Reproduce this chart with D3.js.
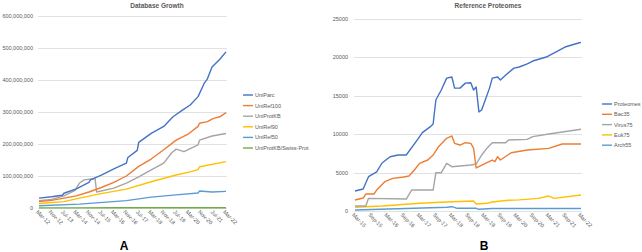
<!DOCTYPE html>
<html>
<head>
<meta charset="utf-8">
<script src="https://cdn.jsdelivr.net/npm/d3@7"></script>
<style>
  body { margin: 0; background: #fff; }
  text { font-family: "Liberation Sans", Arial, sans-serif; }
</style>
</head>
<body>
<div id="chart"></div>
<script>
// ---- left panel: database growth (millions of entries) ----
var growthNames = ["UniParc", "UniRef100", "UniProtKB", "UniRef90", "UniRef50", "UniProtKB/Swiss-Prot"];
var growthTicks = ["Mar-12", "Nov-12", "Jul-13", "Mar-14", "Nov-14", "Jul-15", "Mar-16", "Nov-16",
                   "Jul-17", "Mar-18", "Nov-18", "Jul-19", "Mar-20", "Nov-20", "Jul-21", "Mar-22"];
var growthYTicks = [0, 100, 200, 300, 400, 500, 600];

var uniParc = [["2012-03",31],["2012-11",35],["2013-06",40],["2013-07",46],["2014-03",60],["2014-11",80],
  ["2014-12",88],["2015-07",103],["2016-03",122],["2016-11",140],["2016-12",158],["2017-06",180],
  ["2017-07",205],["2018-03",233],["2018-11",255],["2019-05",285],["2019-11",306],["2020-04",322],
  ["2020-09",348],["2021-01",390],["2021-03",403],["2021-06",441],["2021-11",465],["2022-03",488]];
var uniRef100 = [["2012-03",20],["2012-11",24],["2013-07",31],["2014-03",38],["2014-11",50],["2015-07",64],
  ["2016-03",80],["2016-11",100],["2017-07",130],["2018-03",153],["2018-11",182],["2019-07",212],
  ["2020-03",232],["2020-09",255],["2020-10",265],["2021-03",270],["2021-07",280],["2021-11",285],["2022-03",298]];
var uniProtKB = [["2012-03",23],["2012-11",27],["2013-07",38],["2014-02",55],["2014-05",78],["2014-08",88],
  ["2015-03",92],["2015-04",50],["2016-03",62],["2016-11",78],["2017-07",97],["2018-03",119],["2018-11",140],
  ["2019-04",172],["2019-07",184],["2019-12",176],["2020-09",197],["2020-10",212],["2021-06",225],["2022-03",233]];
var uniRef90 = [["2012-03",14],["2013-07",20],["2014-05",31],["2015-06",44],["2016-11",59],["2018-03",82],
  ["2019-07",103],["2020-04",113],["2020-09",120],["2020-10",129],["2022-03",145]];
var uniRef50 = [["2012-03",7],["2014-05",12],["2016-11",23],["2018-03",34],["2019-07",41],["2020-09",47],
  ["2020-10",53],["2021-06",50],["2022-03",52]];
var swissProt = [["2012-03",0.535],["2014-03",0.545],["2016-03",0.55],["2018-03",0.557],["2020-03",0.562],["2022-03",0.567]];

// ---- right panel: reference proteomes ----
var protNames = ["Proteomes", "Bac35", "Virus75", "Euk75", "Arch55"];
var protTicks = ["Mar-15", "Sep-15", "Mar-16", "Sep-16", "Mar-17", "Sep-17", "Mar-18", "Sep-18",
                 "Mar-19", "Sep-19", "Mar-20", "Sep-20", "Mar-21", "Sep-21", "Mar-22"];
var protYTicks = [0, 5000, 10000, 15000, 20000, 25000];

var proteomes = [["2015-03",2600],["2015-06",2860],["2015-08",4470],["2015-11",5100],["2016-01",6250],
  ["2016-04",7070],["2016-07",7290],["2016-10",7290],["2017-02",9240],["2017-04",10200],["2017-07",10980],
  ["2017-08",11330],["2017-09",14450],["2017-11",15750],["2018-01",17300],["2018-03",17450],["2018-04",16000],
  ["2018-06",16000],["2018-08",16650],["2018-10",16700],["2018-11",15750],["2018-12",16150],["2019-01",12900],
  ["2019-02",13150],["2019-05",16000],["2019-06",17300],["2019-08",17450],["2019-09",17050],["2019-11",17700],
  ["2020-02",18600],["2020-04",18750],["2020-07",19150],["2020-09",19530],["2021-02",20050],["2021-09",21350],
  ["2022-02",21870],["2022-03",21950]];
var bac35 = [["2015-03",1430],["2015-06",1690],["2015-07",2210],["2015-10",2210],["2015-11",2730],["2016-02",3815],
  ["2016-05",4250],["2016-09",4430],["2016-11",4560],["2017-01",5340],["2017-03",6210],["2017-06",6640],
  ["2017-08",7290],["2017-10",8370],["2018-01",9460],["2018-03",9770],["2018-04",8810],["2018-06",8590],
  ["2018-08",8890],["2018-10",8810],["2018-11",8200],["2018-12",5600],["2019-01",5770],["2019-04",6290],
  ["2019-06",6640],["2019-07",6420],["2019-08",7070],["2019-09",6640],["2020-01",7590],["2020-07",7940],
  ["2021-03",8160],["2021-08",8720],["2022-03",8720]];
var virus75 = [["2015-03",650],["2015-07",650],["2015-08",1650],["2016-10",1560],["2016-12",2730],["2017-08",2730],
  ["2017-09",4990],["2017-11",4990],["2018-01",6210],["2018-03",5770],["2018-10",5990],["2018-12",6120],
  ["2019-02",7290],["2019-04",8160],["2019-06",8890],["2019-11",8890],["2019-12",9240],["2020-07",9330],
  ["2020-09",9680],["2021-03",10030],["2022-03",10640]];
var euk75 = [["2015-03",480],["2016-01",650],["2017-03",1000],["2018-03",1210],["2018-11",1300],["2018-12",910],
  ["2019-04",1000],["2019-06",1170],["2019-12",1400],["2020-04",1450],["2020-11",1650],["2021-03",1950],
  ["2021-05",1650],["2022-03",2080]];
var arch55 = [["2015-03",130],["2017-01",350],["2018-01",480],["2018-03",560],["2018-05",350],["2018-12",350],
  ["2019-01",220],["2019-06",320],["2022-03",330]];

var palette = ["#4472C4", "#ED7D31", "#A5A5A5", "#FFC000", "#5B9BD5", "#70AD47"];

function init() {
    var parseM = d3.timeParse("%Y-%m");
    var parseTick = d3.timeParse("%b-%y");

    var svg = d3.select("#chart")
                .append("svg")
                .attr("width", 642)
                .attr("height", 252)
                .style("background", "#fff");

    function panel(cfg) {
        var x = d3.scaleTime().domain(cfg.domain.map(parseM)).range(cfg.xRange);
        var y = d3.scaleLinear().domain(cfg.yDomain).range(cfg.yRange);
        var g = svg.append("g");

        // gridlines
        g.selectAll("line.grid")
         .data(cfg.yTicks)
         .enter()
         .append("line")
         .attr("x1", cfg.gridX[0])
         .attr("x2", cfg.gridX[1])
         .attr("y1", function(d) { return Math.round(y(d)) + 0.5; })
         .attr("y2", function(d) { return Math.round(y(d)) + 0.5; })
         .attr("stroke", "#D9D9D9")
         .attr("stroke-width", 0.8);

        g.selectAll("text.ylab")
         .data(cfg.yTicks)
         .enter()
         .append("text")
         .attr("x", cfg.yLabelX)
         .attr("y", function(d) { return y(d); })
         .attr("dy", "0.35em")
         .attr("text-anchor", "end")
         .attr("font-size", 5.5)
         .attr("fill", "#595959")
         .text(cfg.yFormat);

        g.selectAll("text.xlab")
         .data(cfg.xTicks)
         .enter()
         .append("text")
         .attr("transform", function(d) {
             return "translate(" + (x(parseTick(d)) - 2) + "," + (cfg.yRange[0] + 3) + ") rotate(45)";
         })
         .attr("dy", "0.35em")
         .attr("text-anchor", "start")
         .attr("font-size", 5.5)
         .attr("fill", "#595959")
         .text(function(d) { return d; });

        var line = d3.line()
                     .x(function(d) { return x(parseM(d[0])); })
                     .y(function(d) { return y(d[1]); });

        // draw last series first so the first one sits on top
        cfg.series.slice().reverse().forEach(function(s, k) {
            var i = cfg.series.length - 1 - k;
            g.append("path")
             .attr("d", line(s))
             .attr("fill", "none")
             .attr("stroke", cfg.colors[i])
             .attr("stroke-width", 1.4)
             .attr("stroke-linejoin", "round");
        });

        g.append("text")
         .attr("x", cfg.titleX)
         .attr("y", 8)
         .attr("text-anchor", "middle")
         .attr("font-size", 6.5)
         .attr("font-weight", "bold")
         .attr("fill", "#595959")
         .text(cfg.title);

        var leg = g.selectAll("g.leg")
                   .data(cfg.names)
                   .enter()
                   .append("g")
                   .attr("transform", function(d, i) {
                       return "translate(" + cfg.legX + "," + (cfg.legY + i * cfg.legStep) + ")";
                   });
        leg.append("line")
           .attr("x1", 0).attr("x2", 10)
           .attr("stroke", function(d, i) { return cfg.colors[i]; })
           .attr("stroke-width", 1.4);
        leg.append("text")
           .attr("x", 12)
           .attr("dy", "0.35em")
           .attr("font-size", 5.5)
           .attr("fill", "#595959")
           .text(function(d) { return d; });

        g.append("text")
         .attr("x", cfg.letterX)
         .attr("y", 250)
         .attr("text-anchor", "middle")
         .attr("font-size", 12)
         .attr("font-weight", "bold")
         .attr("fill", "#000")
         .text(cfg.letter);
    }

    panel({
        domain: ["2012-03", "2022-03"], xRange: [39, 226],
        yDomain: [0, 600], yRange: [208, 16], yTicks: growthYTicks,
        gridX: [38, 227], yLabelX: 33,
        yFormat: function(d) { return d3.format(",")(d * 1e6); },
        xTicks: growthTicks,
        series: [uniParc, uniRef100, uniProtKB, uniRef90, uniRef50, swissProt],
        names: growthNames, colors: palette,
        title: "Database Growth", titleX: 157,
        legX: 243, legY: 95, legStep: 10.6,
        letter: "A", letterX: 124
    });

    panel({
        domain: ["2015-03", "2022-03"], xRange: [355, 581],
        yDomain: [0, 25000], yRange: [211, 19], yTicks: protYTicks,
        gridX: [354, 582], yLabelX: 348,
        yFormat: function(d) { return d; },
        xTicks: protTicks,
        series: [proteomes, bac35, virus75, euk75, arch55],
        names: protNames, colors: [palette[0], palette[1], palette[2], palette[3], palette[4]],
        title: "Reference Proteomes", titleX: 488,
        legX: 602, legY: 104, legStep: 10.3,
        letter: "B", letterX: 484
    });
}
window.onload = init;
</script>
</body>
</html>
